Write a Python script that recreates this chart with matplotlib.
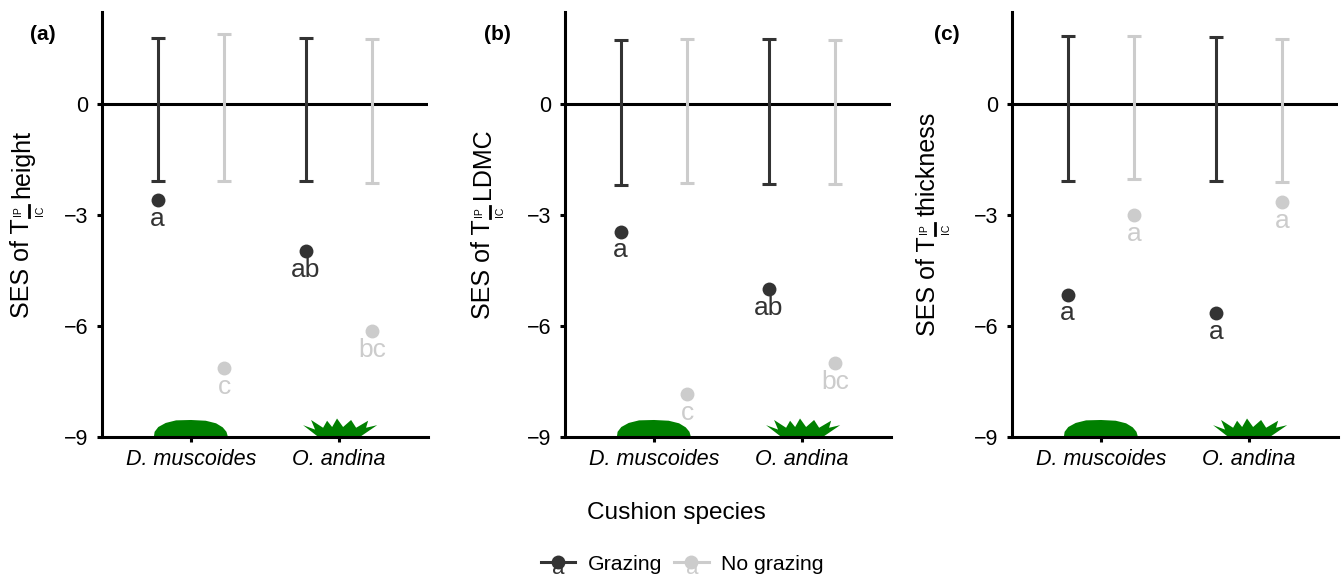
import matplotlib
matplotlib.use('Agg')
import matplotlib.pyplot as plt
from matplotlib.lines import Line2D
import numpy as np

plt.rcParams['font.family'] = ['Liberation Sans', 'DejaVu Sans']

species = ['D. muscoides', 'O. andina']
traits = ['height', 'LDMC', 'thickness']
tags = ['(a)', '(b)', '(c)']

# order in each list: D grazing, D no grazing, O grazing, O no grazing
ses_a = [-2.6, -7.14, -3.97, -6.13]
ses_b = [-3.45, -7.85, -5.0, -7.0]
ses_c = [-5.15, -3.0, -5.65, -2.65]
upper_a = [1.8, 1.9, 1.8, 1.77]
upper_b = [1.72, 1.77, 1.77, 1.72]
upper_c = [1.83, 1.83, 1.82, 1.77]
lower_a = [-2.08, -2.08, -2.08, -2.14]
lower_b = [-2.2, -2.12, -2.15, -2.15]
lower_c = [-2.07, -2.03, -2.08, -2.1]
letters_a = ['a', 'c', 'ab', 'bc']
letters_b = ['a', 'c', 'ab', 'bc']
letters_c = ['a', 'a', 'a', 'a']

# plant silhouettes, offsets from the category tick
cushion_x = [-0.25, -0.245, -0.22, -0.17, -0.1, 0, 0.1, 0.17, 0.215, 0.24, 0.25]
cushion_y = [0, 0.14, 0.27, 0.38, 0.45, 0.46, 0.44, 0.37, 0.26, 0.14, 0]
grass_x = [-0.14, -0.243, -0.162, -0.189, -0.108, -0.081, -0.047, -0.014, 0.027, 0.081,
           0.115, 0.196, 0.182, 0.257, 0.14]
grass_y = [0, 0.32, 0.2, 0.46, 0.25, 0.44, 0.27, 0.5, 0.27, 0.46, 0.25, 0.44, 0.25, 0.32, 0]

dark = '#333333'
light = '#CCCCCC'
colors = [dark, light, dark, light]
W, H = 1341, 577

xpos = np.array([1 - 0.225, 1 + 0.225, 2 - 0.225, 2 + 0.225])

fig = plt.figure(figsize=(W / 100, H / 100), dpi=100)
renderer = fig.canvas.get_renderer()


def ylabel_parts(base_x, center_y, trait):
    # label with a small stacked fraction, built from pieces since mathtext
    # draws the fraction too large
    size = 18
    t1 = fig.text(base_x / W, 0, 'SES of T', rotation=90, rotation_mode='anchor',
                  ha='left', va='baseline', fontsize=size)
    t2 = fig.text(base_x / W, 0, trait, rotation=90, rotation_mode='anchor',
                  ha='left', va='baseline', fontsize=size)
    len1 = t1.get_window_extent(renderer).height
    len2 = t2.get_window_extent(renderer).height
    bar = 12
    gap1 = 1.5
    gap2 = 7
    total = len1 + gap1 + bar + gap2 + len2
    bottom = center_y + total / 2
    t1.set_y(1 - bottom / H)
    bar_bottom = bottom - len1 - gap1
    bar_top = bar_bottom - bar
    t2.set_y(1 - (bar_top - gap2) / H)
    fig.add_artist(Line2D([base_x / W, base_x / W], [1 - bar_bottom / H, 1 - bar_top / H],
                          color='black', lw=2.0, transform=fig.transFigure))
    mid = (bar_bottom + bar_top) / 2
    fig.text((base_x - 10.5) / W, 1 - mid / H, 'IP', rotation=90, ha='center', va='center', fontsize=7.5)
    fig.text((base_x + 10.5) / W, 1 - mid / H, 'IC', rotation=90, ha='center', va='center', fontsize=7.5)


panels = [
    (102, ses_a, upper_a, lower_a, letters_a, 29, 30),
    (565, ses_b, upper_b, lower_b, letters_b, 490, 484),
    (1012, ses_c, upper_c, lower_c, letters_c, 935, 934),
]

for i, (left, ses, upper, lower, letters, lab_x, tag_x) in enumerate(panels):
    ax = fig.add_axes([left / W, 1 - 437 / H, 326 / W, 425 / H])
    ax.axhline(0, color='black', lw=2.2, zorder=1)
    for j in range(4):
        ax.errorbar(xpos[j], 0, yerr=[[-lower[j]], [upper[j]]], color=colors[j],
                    lw=2.2, capsize=5.3, capthick=2.2, zorder=2)
        ax.plot(xpos[j], ses[j], 'o', color=colors[j], ms=10, mew=0, zorder=3)
        ax.annotate(letters[j], (xpos[j], ses[j]), xytext=(0, -18.5), textcoords='offset points',
                    ha='center', va='baseline', color=colors[j], fontsize=19, zorder=4)

    ax.fill(1 + np.array(cushion_x), -9 + np.array(cushion_y), color='green', lw=0, zorder=2)
    ax.fill(2 + np.array(grass_x), -9 + np.array(grass_y), color='green', lw=0, zorder=2)

    ax.set_xlim(0.4, 2.6)
    ax.set_ylim(-9, 2.49)
    ax.set_xticks([1, 2])
    ax.set_xticklabels(species, style='italic', fontsize=15.5)
    ax.set_yticks([-9, -6, -3, 0])
    ax.set_yticklabels(['\u22129', '\u22126', '\u22123', '0'], fontsize=15.5)
    ax.tick_params(length=3.6, width=2.2, color='black')
    ax.tick_params(axis='x', pad=5)
    ax.tick_params(axis='y', pad=6.2)
    ax.spines['top'].set_visible(False)
    ax.spines['right'].set_visible(False)
    ax.spines['left'].set_linewidth(2.2)
    ax.spines['bottom'].set_linewidth(2.2)

    ylabel_parts(lab_x, 224, traits[i])
    fig.text(tag_x / W, 1 - 34 / H, tags[i], fontweight='bold', fontsize=15, va='center')

fig.text(676 / W, 1 - 513 / H, 'Cushion species', ha='center', va='center', fontsize=17.6)

handles = [Line2D([], [], color=dark, lw=2.2, marker='o', ms=10, mew=0),
           Line2D([], [], color=light, lw=2.2, marker='o', ms=10, mew=0)]
fig.legend(handles, ['Grazing', 'No grazing'], ncol=2, frameon=False, fontsize=15.3,
           loc='center', bbox_to_anchor=(682.5 / W, 1 - 564 / H), handlelength=1.62,
           handletextpad=0.6, columnspacing=0.55, borderpad=0, borderaxespad=0)
fig.text(558 / W, 1 - 574 / H, 'a', ha='center', va='baseline', color=dark, fontsize=16)
fig.text(692 / W, 1 - 574 / H, 'a', ha='center', va='baseline', color=light, fontsize=16)

fig.savefig('out.png', dpi=100)
